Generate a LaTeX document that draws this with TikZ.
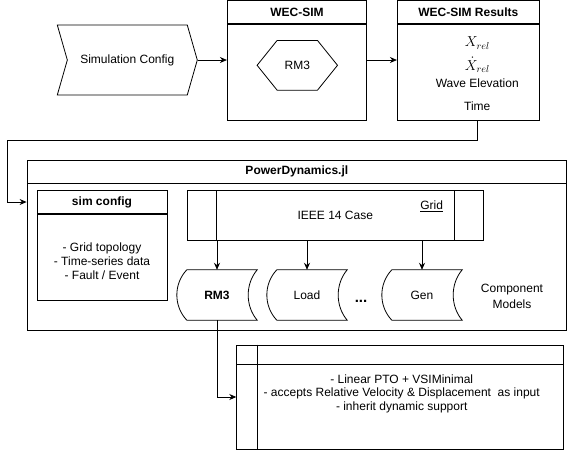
\documentclass[tikz,border=0pt]{standalone}
\usepackage{amsmath}
\usepackage{fontspec}
\setmainfont{Liberation Sans}
\usetikzlibrary{arrows.meta,positioning,shapes.symbols}
\newcommand{\diafont}{\fontsize{12}{14}\selectfont}
\tikzset{
    lane/.style={
    rectangle,draw=black,line width=0.8pt,inner sep=0pt
    },
    lanehead/.style={
    rectangle,draw=black,line width=0.8pt,inner sep=0pt,font=\diafont\bfseries
    },
    txt/.style={
    inner sep=0pt,align=center
    },
    mathtxt/.style={
    inner sep=0pt,font=\fontsize{14}{16}\selectfont
    },
    storebox/.style={
    rectangle,inner sep=0pt,minimum width=80pt,minimum height=50pt
    },
    hexbox/.style={
    rectangle,inner sep=0pt,minimum width=80pt,minimum height=49.3pt
    },
    flow/.style={
    -{Stealth[length=7pt,width=6pt]},line width=0.8pt
    },
}
\begin{document}
\begin{tikzpicture}[x=1pt, y=-1pt, node distance=0pt, every node/.style={font=\diafont}]
  \useasboundingbox (0,0) rectangle (568,451);

  \node[signal,signal from=west,signal to=east,signal pointer angle=148,draw=black,line width=0.8pt,
        minimum width=140pt,minimum height=70pt,inner sep=0pt] (simcfg) at (127.3,60) {Simulation Config};

  \node[lanehead,minimum width=139.4pt,minimum height=22.8pt] (wechd) at (297,11.9) {WEC-SIM};
  \node[lane,minimum width=139.4pt,minimum height=96pt,below=of wechd] (wecbody) {};
  \node[hexbox] (wrm) at (297.3,65.3) {RM3};
  \draw[line width=0.8pt] (wrm.west) -- ([xshift=20pt]wrm.north west) -- ([xshift=-20pt]wrm.north east)
    -- (wrm.east) -- ([xshift=-20pt]wrm.south east) -- ([xshift=20pt]wrm.south west) -- cycle;

  \node[lanehead,minimum width=142pt,minimum height=22.8pt] (reshd) at (468.3,11.9) {WEC-SIM Results};
  \node[lane,minimum width=142pt,minimum height=96pt,below=of reshd] (resbody) {};
  \node[mathtxt] (xrel) at (477.3,43) {$X_{rel}$};
  \node[mathtxt] (xdot) at (477.3,65) {$\dot{X}_{rel}$};
  \node[txt] (wave) at (477.3,83) {Wave Elevation};
  \node[txt] (time) at (477.3,106) {Time};

  \node[lanehead,minimum width=539.7pt,minimum height=22.3pt] (pdhd) at (296.85,171.85) {PowerDynamics.jl};
  \node[lane,minimum width=539.7pt,minimum height=147pt,below=of pdhd] (pdbody) {};

  \node[lanehead,minimum width=130pt,minimum height=22.6pt] (schd) at (102,202) {sim config};
  \node[lane,minimum width=130pt,minimum height=86.7pt,below=of schd] (scbody) {};
  \node[txt] (sctxt) at (102,261) {- Grid topology\\- Time-series data\\- Fault / Event};

  \node[lane,minimum width=296pt,minimum height=49.3pt] (grid) at (335.3,215.3) {IEEE 14 Case};
  \draw[line width=0.8pt] ([xshift=29.7pt]grid.north west) -- ([xshift=29.7pt]grid.south west)
    ([xshift=-29.7pt]grid.north east) -- ([xshift=-29.7pt]grid.south east);
  \node[txt] (gridlbl) at (431.7,206) {\underline{Grid}};

  \node[storebox] (crm3) at (217,295) {\textbf{RM3}};
  \node[storebox] (cload) at (307,295) {Load};
  \node[storebox] (cgen) at (422,295) {Gen};
  \foreach \c in {crm3,cload,cgen}
    \draw[line width=0.8pt] ([xshift=10pt]\c.north west) -- (\c.north east)
      .. controls ([xshift=-12pt,yshift=-14pt]\c.north east) and ([xshift=-12pt,yshift=14pt]\c.south east) .. (\c.south east)
      -- ([xshift=10pt]\c.south west)
      .. controls ([xshift=-3.3pt,yshift=14pt]\c.south west) and ([xshift=-3.3pt,yshift=-14pt]\c.north west) .. ([xshift=10pt]\c.north west)
      -- cycle;
  \node[txt,font=\fontsize{15}{16}\selectfont\bfseries] (dots) at (361,301) {...};
  \node[txt,font=\fontsize{12}{16}\selectfont] (cmlbl) at (512,296) {Component\\Models};

  \node[lane,minimum width=326.3pt,minimum height=104pt] (pto) at (399.85,397) {};
  \draw[line width=0.8pt] ([yshift=-19.3pt]pto.north west) -- ([yshift=-19.3pt]pto.north east)
    ([xshift=20.6pt]pto.north west) -- ([xshift=20.6pt]pto.south west);
  \node[txt,font=\fontsize{12}{13.5}\selectfont] (ptotxt) at (401.7,393.5)
    {- Linear PTO + VSIMinimal\\- accepts Relative Velocity \& Displacement\ \ as input\\- inherit dynamic support};

  \coordinate (loop) at (7.3,140);
  \draw[flow] (simcfg.east) -- (simcfg.east -| wecbody.west);
  \draw[flow] (wecbody.east |- simcfg.east) -- (resbody.west |- simcfg.east);
  \draw[flow] (resbody.south -| xrel) |- (loop) |- (pdbody.west |- schd);
  \path[flow]
    (crm3.north |- grid.south) edge (crm3.north)
    (cload.north |- grid.south) edge (cload.north)
    (cgen.north |- grid.south) edge (cgen.north);
  \draw[flow] (crm3.south) |- (pto.west);
\end{tikzpicture}
\end{document}
